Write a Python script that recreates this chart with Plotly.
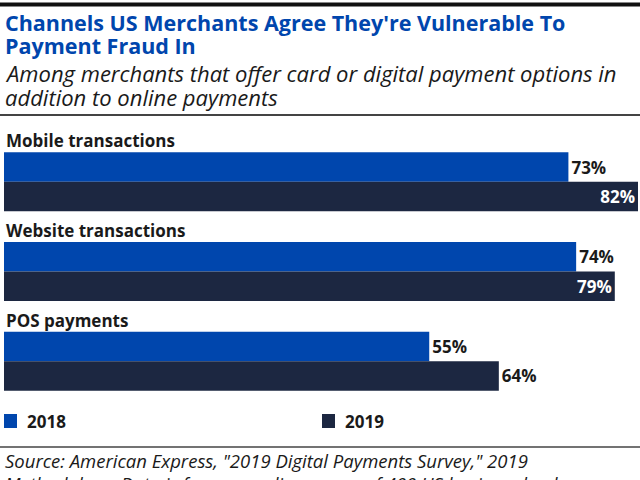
import plotly.graph_objects as go

categories = ["Mobile transactions", "Website transactions", "POS payments"]
years = ["2018", "2019"]
values_2018 = [73, 74, 55]
values_2019 = [82, 79, 64]

COL_2018 = "#0046AD"
COL_2019 = "#1C2741"
FONT = "Open Sans"

W, H = 640, 480
ML, MR, MT, MB = 4, 2, 137, 74
PW, PH = W - ML - MR, H - MT - MB
XMAX = 82


def px(xp):
    return (xp - ML) / PW


def py(yp):
    return (H - MB - yp) / PH


def label_positions(vals):
    # labels that would overflow the plot area are drawn inside the bar
    out = []
    for v in vals:
        end = v / XMAX * PW
        out.append("inside" if end + 30 > PW else "outside")
    return out


fig = go.Figure()
for name, vals, col in [(years[0], values_2018, COL_2018), (years[1], values_2019, COL_2019)]:
    fig.add_trace(go.Bar(
        y=categories, x=vals, name=name, orientation="h",
        marker=dict(color=col, line=dict(width=0)),
        text=[f"{v}%" for v in vals],
        textposition=label_positions(vals),
        insidetextanchor="end",
        insidetextfont=dict(color="white", size=17, family=FONT, weight="bold"),
        outsidetextfont=dict(color="#1a1a1a", size=17, family=FONT, weight="bold"),
        cliponaxis=False,
        showlegend=False,
    ))

fig.update_layout(
    width=W, height=H,
    margin=dict(l=ML, r=MR, t=MT, b=MB, pad=0),
    paper_bgcolor="white", plot_bgcolor="white",
    barmode="group", bargap=0.342, bargroupgap=0,
    xaxis=dict(range=[0, XMAX], visible=False, fixedrange=True),
    yaxis=dict(range=[2.5, -0.5], visible=False, fixedrange=True),
    uniformtext=dict(mode=False),
)

ann = []
# title
ann.append(dict(text="Channels US Merchants Agree They're Vulnerable To", x=px(3), y=py(22),
                font=dict(size=21.5, color=COL_2018, family=FONT, weight="bold")))
ann.append(dict(text="Payment Fraud In", x=px(3), y=py(45.5),
                font=dict(size=21.5, color=COL_2018, family=FONT, weight="bold")))
ann.append(dict(text="<i>Among merchants that offer card or digital payment options in</i>", x=px(3), y=py(73),
                font=dict(size=22, color="#1a1a1a", family=FONT)))
ann.append(dict(text="<i>addition to online payments</i>", x=px(3), y=py(97),
                font=dict(size=22, color="#1a1a1a", family=FONT)))
# category labels
for c in categories:
    ann.append(dict(text=c, x=0, xref="paper", y=c, yref="y", yshift=41,
                    font=dict(size=17, color="#1a1a1a", family=FONT, weight="bold")))
# legend
for name, col, xs in [(years[0], COL_2018, 4), (years[1], COL_2019, 322)]:
    ann.append(dict(text=name, x=px(xs + 21), y=py(421),
                    font=dict(size=17, color="#1a1a1a", family=FONT, weight="bold")))
# source
ann.append(dict(text='<i>Source: American Express, "2019 Digital Payments Survey," 2019</i>', x=px(3), y=py(461),
                font=dict(size=18.5, color="#1a1a1a", family=FONT)))
ann.append(dict(text='<i>Methodology: Data is from an online survey of 400 US business leaders</i>', x=px(3), y=py(483),
                font=dict(size=18.5, color="#1a1a1a", family=FONT)))

for a in ann:
    a.setdefault("xref", "paper")
    a.setdefault("yref", "paper")
    a.update(xanchor="left", yanchor="middle", showarrow=False, align="left")
fig.update_layout(annotations=ann)

shapes = [
    dict(type="line", x0=px(0), x1=px(640), y0=py(4.5), y1=py(4.5), line=dict(color="#111111", width=4)),
    dict(type="line", x0=px(0), x1=px(640), y0=py(115), y1=py(115), line=dict(color="#444444", width=2)),
    dict(type="line", x0=px(0), x1=px(640), y0=py(447), y1=py(447), line=dict(color="#444444", width=1.5)),
    dict(type="rect", x0=px(4), x1=px(17), y0=py(414), y1=py(428), fillcolor=COL_2018, line=dict(width=0)),
    dict(type="rect", x0=px(322), x1=px(335), y0=py(414), y1=py(428), fillcolor=COL_2019, line=dict(width=0)),
]
for s in shapes:
    s.update(xref="paper", yref="paper")
fig.update_layout(shapes=shapes)

fig.write_html("out.html")
